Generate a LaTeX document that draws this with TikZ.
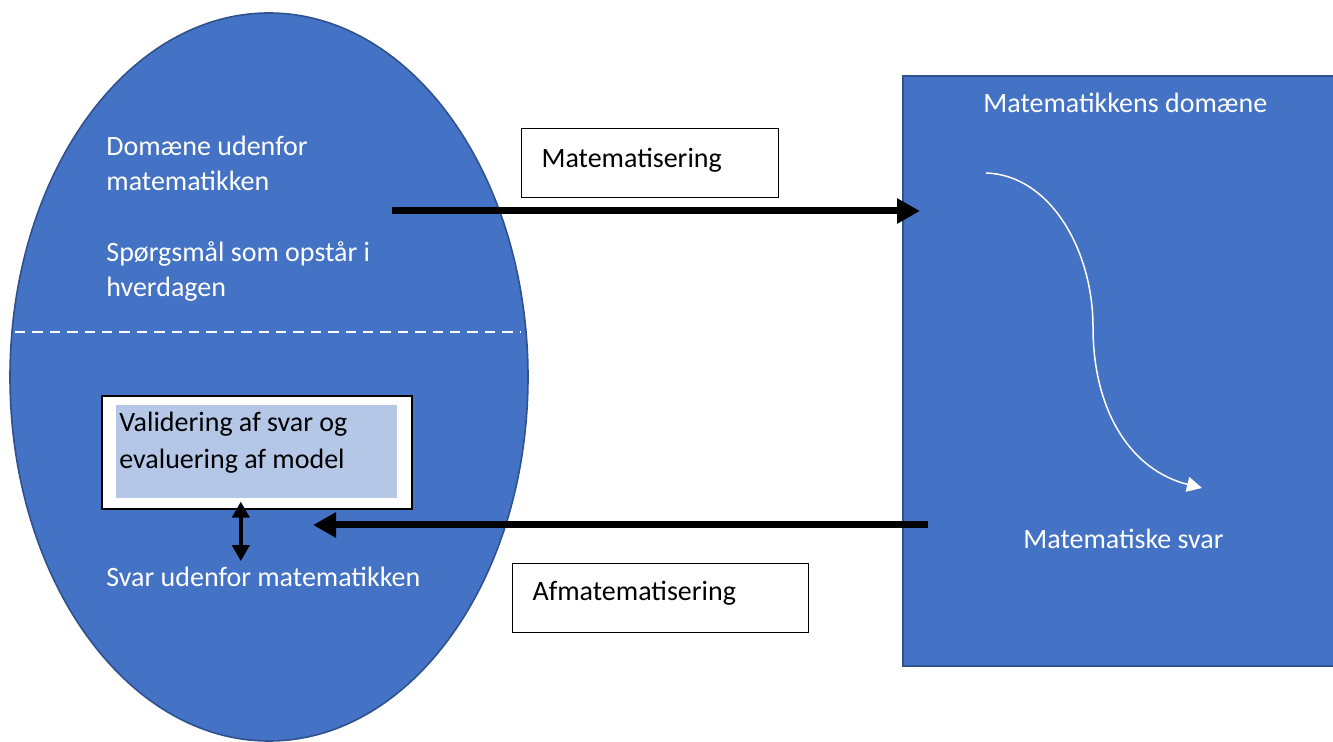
\documentclass[tikz,border=0pt]{standalone}
\usepackage{fontspec}
\setmainfont{Carlito}
\usetikzlibrary{shapes,arrows.meta,positioning}
\definecolor{boxblue}{HTML}{4472C4}
\definecolor{edgeblue}{HTML}{2F528F}
\definecolor{paleblue}{HTML}{B4C7E7}

\begin{document}
\begin{tikzpicture}[x=0.5pt, y=-0.5pt,
    font=\fontsize{14}{17.5}\selectfont,
    domain_oval/.style ={ellipse, draw=edgeblue, line width=0.8pt, fill=boxblue,
      minimum width=259pt, minimum height=364pt, inner sep=0pt},
    domain_block/.style ={rectangle, draw=edgeblue, line width=1pt, fill=boxblue,
      minimum width=221.5pt, minimum height=295pt, inner sep=0pt},
    text_white/.style ={text=white, align=left, inner sep=0pt, anchor=base west},
    label_box/.style ={rectangle, draw=black, line width=0.6pt, fill=white,
      align=left, inner xsep=10pt, minimum height=34.5pt, anchor=north west,
      text height=10pt},
    check_box/.style ={rectangle, draw=black, line width=0.8pt, fill=white,
      minimum width=155pt, minimum height=56.5pt, anchor=north west},
    check_fill/.style ={rectangle, draw=none, fill=paleblue,
      inner xsep=1.5pt, inner ysep=0pt, anchor=north west},
    cut_line/.style ={draw=white, line width=1.2pt, dash pattern=on 5.2pt off 3.5pt},
    thick_line/.style ={draw, line width=3.5pt, -{Triangle[length=11.5pt,width=12pt]}},
    updown_line/.style ={draw, line width=2pt,
      {Triangle[length=8pt,width=8.5pt]}-{Triangle[length=8pt,width=8.5pt]}},
    curve_line/.style ={draw=white, line width=0.75pt,
      -{Triangle[length=7.5pt,width=7.5pt]}}]
    \useasboundingbox (0,0) rectangle (1333,742);
    \clip (0,0) rectangle (1333,742);
    % everyday domain
    \node [domain_oval] (outside) at (269,377) {};
    \coordinate (cutl) at (15,332);
    \coordinate (cutr) at (521,332);
    \path [cut_line] (cutl) -- (cutr);
    \node [text_white] (outname) at (106,191) {Domæne udenfor\\matematikken};
    \node [text_white] (question) at (106,297) {Spørgsmål som opstår i\\hverdagen};
    \node [text_white] (svar) at (106,587) {Svar udenfor matematikken};
    \node [check_box] (valbox) at (101,395) {};
    \node [check_fill] (valfill) at (116,405)
      {\parbox[t][46.5pt][t]{137.5pt}{\vspace{3.5pt}\baselineskip=18.5pt
        Validering af svar og\\evaluering af model}};
    % mathematical domain
    \node [domain_block, anchor=north west] (domain) at (902,75) {};
    \node [text_white] (domname) at (983,113) {Matematikkens domæne};
    \node [text_white] (matsvar) at (1023,549) {Matematiske svar};
    \coordinate (curvestart) at (986,173);
    \coordinate (curvemid) at (1093,327);
    \coordinate (curveend) at (1202,488);
    \path [curve_line] (curvestart) .. controls (1050,175) and (1093,250) .. (curvemid)
      .. controls (1093,410) and (1130,470) .. (curveend);
    % labels
    \node [label_box, text width=108.5pt, text depth=5.5pt] (matlabel) at (521,128) {Matematisering};
    \node [label_box, text width=128pt, text depth=7.5pt] (aflabel) at (512,563) {Afmatematisering};
    % connecting nodes with paths
    \coordinate (matstart) at (392,211);
    \coordinate (afend) at (313,525);
    \path [thick_line] (matstart) -- ([xshift=9pt]domain.west |- matstart);
    \path [thick_line] ([xshift=13pt]domain.west |- afend) -- (afend);
    \path [updown_line] ([xshift=-8pt,yshift=4pt]valbox.south)
      -- ([xshift=-8pt,yshift=3pt]svar.north -| valbox.south);
\end{tikzpicture}
\end{document}
